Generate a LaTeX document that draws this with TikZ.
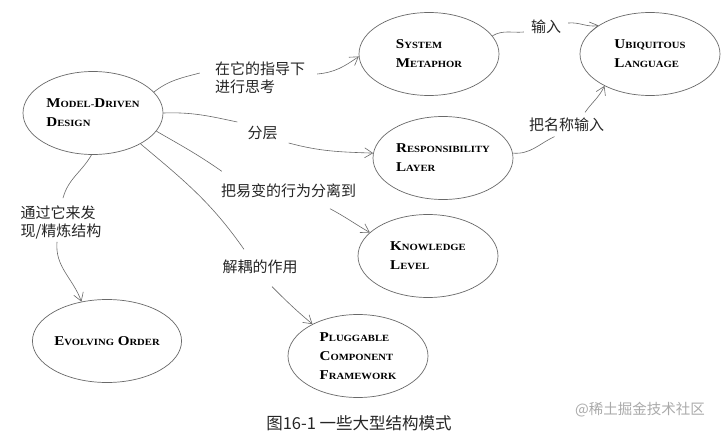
\documentclass[tikz,border=0pt]{standalone}
\usepackage{fontspec}
\usetikzlibrary{shapes.geometric,arrows.meta}
\newfontfamily\capsfont[FakeStretch=1.12]{Liberation Serif}
\newfontfamily\cjk{Noto Sans CJK SC}
\newcommand\capsw[2]{{\fontsize{13.5}{19}\selectfont #1}{\fontsize{9.5}{19}\selectfont #2}}
\definecolor{linegray}{RGB}{105,105,105}
\definecolor{wmgray}{RGB}{170,170,170}
\tikzset{
  pattern/.style={draw=linegray, line width=0.7pt, shape=ellipse, minimum width=140pt, minimum height=83pt, inner sep=0pt, align=left, text=black, font=\capsfont\bfseries\fontsize{13.5}{19}\selectfont},
  lab/.style={inner sep=0pt, align=left, text=black!85, font=\cjk\fontsize{15}{18}\selectfont},
  conn/.style={draw=linegray, line width=0.6pt},
  arr/.style={conn, -{Straight Barb[length=8pt,width=10pt]}}
}
\begin{document}
\begin{tikzpicture}[x=1pt,y=-1pt]
\useasboundingbox[fill=white] (0,0) rectangle (724,434);
% patterns
\node[pattern] (mdd) at (93,113) {\capsw{M}{ODEL-}\capsw{D}{RIVEN}\\\capsw{D}{ESIGN}};
\node[pattern] (sm) at (429,54) {\capsw{S}{YSTEM}\\\capsw{M}{ETAPHOR}};
\node[pattern] (ul) at (650,54) {\capsw{U}{BIQUITOUS}\\\capsw{L}{ANGUAGE}};
\node[pattern] (rl) at (443,158) {\capsw{R}{ESPONSIBILITY}\\\capsw{L}{AYER}};
\node[pattern] (kl) at (428,256) {\capsw{K}{NOWLEDGE}\\\capsw{L}{EVEL}};
\node[pattern] (eo) at (107,341) {\capsw{E}{VOLVING} \capsw{O}{RDER}};
\node[pattern] (pcf) at (358,356) {\capsw{P}{LUGGABLE}\\\capsw{C}{OMPONENT}\\\capsw{F}{RAMEWORK}};
% labels
\node[lab] (l1) at (260,77.5) {在它的指导下\\进行思考};
\node[lab] (l2) at (262.5,133.5) {分层};
\node[lab] (l3) at (288.5,190.5) {把易变的行为分离到};
\node[lab] (l4) at (260,266.5) {解耦的作用};
\node[lab] (l5) at (61,222) {通过它来发\\现/精炼结构};
\node[lab] (l6) at (546,26.5) {输入};
\node[lab] (l7) at (566.5,124.5) {把名称输入};
% connectors
\draw[conn] (mdd.19) to[out=38,in=195] ([xshift=-15pt,yshift=4.5pt]l1.west);
\draw[arr] ([xshift=12pt,yshift=3.5pt]l1.east) to[out=5,in=215] (sm.182);
\draw[conn] (mdd.east) to[out=2,in=168] ([xshift=-10pt,yshift=11.5pt]l2.west);
\draw[arr] ([xshift=11pt,yshift=-9.5pt]l2.east) to[out=-15,in=178] (rl.176);
\draw[conn] (mdd.-16) to[out=-30,in=145] ([xshift=1pt,yshift=12pt]l3.north west);
\draw[arr] ([xshift=41.5pt,yshift=-11pt]l3.south) to[out=-28,in=150] (kl.158);
\draw[conn] (mdd.-33) to[out=-40,in=125] ([xshift=-16pt,yshift=10pt]l4.north);
\draw[arr] ([xshift=12pt,yshift=-13pt]l4.south) to[out=-45,in=140] (pcf.145);
\draw[conn] (mdd.-92) to[out=-120,in=75] ([xshift=2pt,yshift=7pt]l5.north);
\draw[arr] ([xshift=-4pt,yshift=-3pt]l5.south) to[out=-95,in=110] (eo.123);
\draw[conn] (sm.16) to[out=30,in=185] ([xshift=-7pt,yshift=-5.5pt]l6.west);
\draw[arr] ([xshift=7pt,yshift=3.5pt]l6.east) to[out=5,in=190] (ul.151);
\draw[conn] (rl.4) to[out=-5,in=205] ([xshift=-12pt,yshift=-5pt]l7.south);
\draw[arr] ([xshift=18.5pt,yshift=5pt]l7.north) to[out=55,in=245] (ul.215);
% caption and watermark
\node[inner sep=0pt, font=\cjk\fontsize{16.5}{18}\selectfont, text=black!85] (cap) at (359,423) {图16-1 一些大型结构模式};
\node[inner sep=0pt, font=\cjk\fontsize{14.5}{16}\selectfont, text=wmgray] (wm) at (640,410) {@稀土掘金技术社区};
\end{tikzpicture}
\end{document}
